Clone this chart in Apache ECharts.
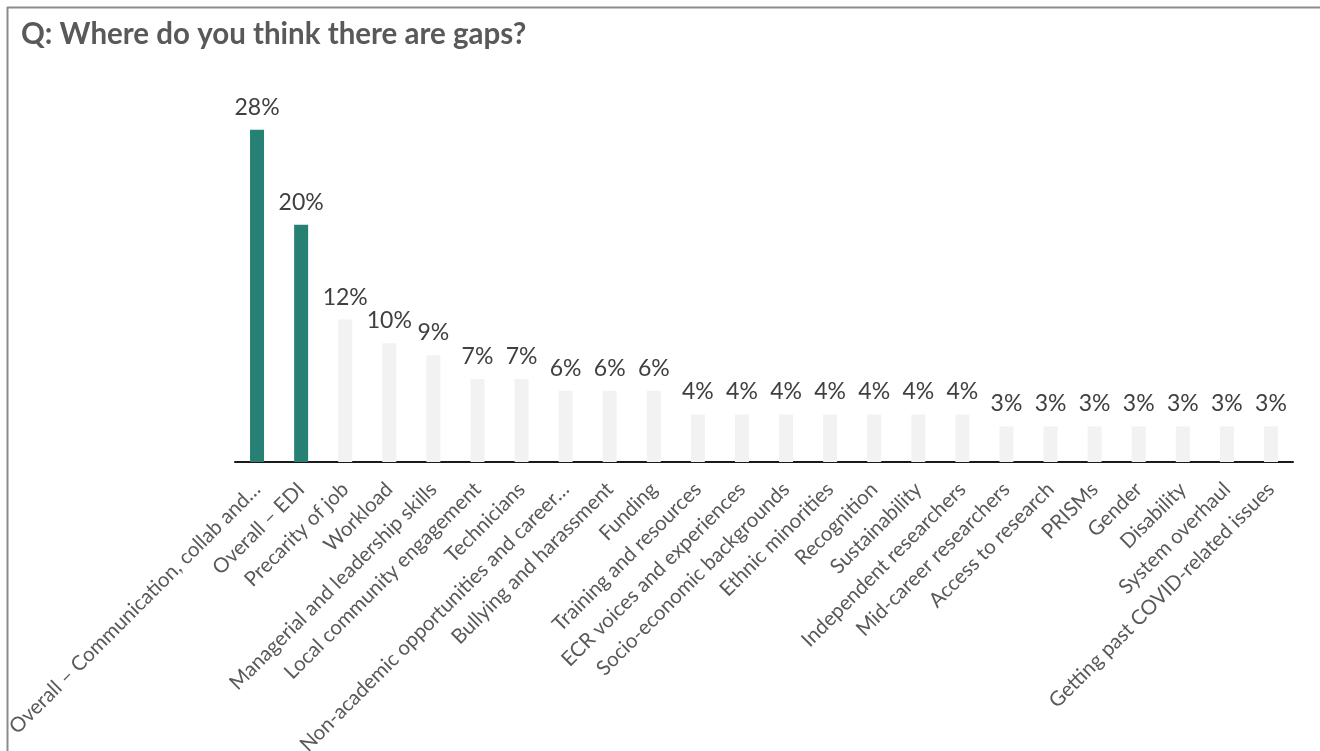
<!DOCTYPE html>
<html>
<head>
<meta charset="utf-8">
<title>Q: Where do you think there are gaps?</title>
<script src="https://cdn.jsdelivr.net/npm/echarts@6/dist/echarts.min.js"></script>
<style>
  html, body { margin: 0; padding: 0; background: #ffffff; }
  #chart { width: 1320px; height: 751px; }
</style>
</head>
<body>
<div id="chart"></div>
<script>
// Survey answers: share of respondents naming each gap (%)
const categories = [
  'Overall – Communication, collab and…',
  'Overall – EDI',
  'Precarity of job',
  'Workload',
  'Managerial and leadership skills',
  'Local community engagement',
  'Technicians',
  'Non-academic opportunities and career…',
  'Bullying and harassment',
  'Funding',
  'Training and resources',
  'ECR voices and experiences',
  'Socio-economic backgrounds',
  'Ethnic minorities',
  'Recognition',
  'Sustainability',
  'Independent researchers',
  'Mid-career researchers',
  'Access to research',
  'PRISMs',
  'Gender',
  'Disability',
  'System overhaul',
  'Getting past COVID-related issues'
];
const shares = [28, 20, 12, 10, 9, 7, 7, 6, 6, 6, 4, 4, 4, 4, 4, 4, 4, 3, 3, 3, 3, 3, 3, 3];
// The two "Overall" themes are highlighted
const highlighted = ['Overall – Communication, collab and…', 'Overall – EDI'];

const TEAL = '#268073';
const PALE = '#f2f2f2';
const FONT = 'Lato, "Open Sans", sans-serif';

const chart = echarts.init(document.getElementById('chart'), null, { renderer: 'canvas' });

chart.setOption({
  backgroundColor: '#ffffff',
  animation: false,
  graphic: [
    { type: 'line', shape: { x1: 7, y1: 7.5, x2: 1320, y2: 7.5 }, style: { stroke: '#8c8c8c', lineWidth: 2 } },
    { type: 'line', shape: { x1: 7.5, y1: 7, x2: 7.5, y2: 751 }, style: { stroke: '#8c8c8c', lineWidth: 2 } },
    {
      type: 'text', left: 21, top: 19,
      style: { text: 'Q: Where do you think there are gaps?', fill: '#595959', font: 'bold 29.5px ' + FONT }
    }
  ],
  grid: { left: 235, right: 27, top: 106, bottom: 289, containLabel: false, outerBoundsMode: 'none' },
  xAxis: {
    type: 'category',
    data: categories,
    axisLine: { show: true, lineStyle: { color: '#1a1a1a', width: 2 } },
    axisTick: { show: false },
    axisLabel: {
      interval: 0,
      rotate: 45,
      margin: 24,
      color: '#595959',
      fontFamily: FONT,
      fontSize: 20.5
    }
  },
  yAxis: {
    type: 'value',
    min: 0,
    max: 30,
    show: false,
    splitLine: { show: false }
  },
  series: [{
    type: 'bar',
    barWidth: 14,
    data: shares.map((v, i) => ({
      value: v,
      itemStyle: { color: highlighted.includes(categories[i]) ? TEAL : PALE }
    })),
    label: {
      show: true,
      position: 'top',
      distance: 11,
      formatter: p => p.value + '%',
      color: '#404040',
      fontFamily: FONT,
      fontSize: 23
    }
  }]
});
</script>
</body>
</html>
